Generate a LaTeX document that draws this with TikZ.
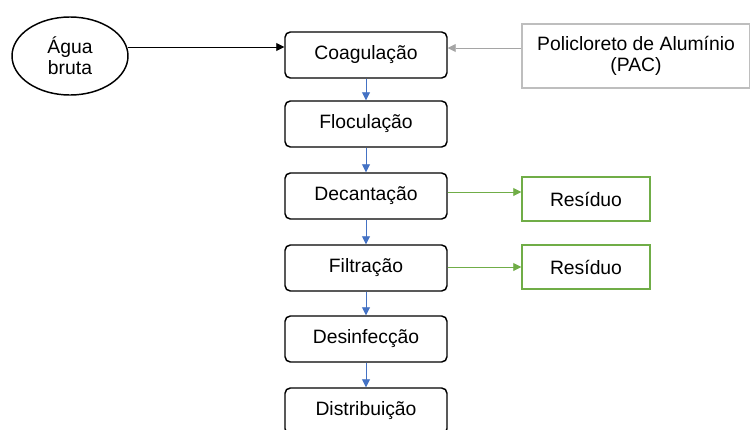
\documentclass[tikz,border=0pt]{standalone}
\usepackage{fontspec}
\setmainfont{Liberation Sans}
\usetikzlibrary{arrows.meta,shapes.geometric}
\definecolor{blueA}{RGB}{68,114,196}
\definecolor{greenA}{RGB}{112,173,71}
\definecolor{grayB}{RGB}{190,190,190}
\definecolor{grayA}{RGB}{165,165,165}
\begin{document}
\begin{tikzpicture}[x=0.75pt,y=-0.75pt,
  txt/.style={font=\fontsize{14.5}{16}\selectfont},
  stepbox/.style={txt,draw=black,line width=1.1pt,rounded corners=4pt,minimum width=121.5pt,minimum height=34.5pt,inner sep=0pt},
  resbox/.style={txt,draw=greenA,line width=1.1pt,minimum width=96pt,minimum height=33pt,inner sep=0pt},
  tip/.style={-{Triangle[length=6pt,width=6pt]}},
  bluearrow/.style={tip,draw=blueA,fill=blueA,line width=0.7pt},
  greenarrow/.style={tip,draw=greenA,line width=0.7pt},
  grayarrow/.style={tip,draw=grayA,line width=0.7pt},
  blackarrow/.style={tip,draw=black,line width=0.7pt}]
\useasboundingbox (0,0) rectangle (750,429);
\clip (0,0) rectangle (750,429);
\node[txt,draw=black,line width=1.1pt,ellipse,minimum width=87pt,minimum height=58.5pt,inner sep=0pt,align=center] (agua) at (70,56) {Água\\bruta};
\node[stepbox] (coag) at (366,55) {Coagulação};
\node[stepbox] (floc) at (366,124) {Floculação};
\node[stepbox] (dec) at (366,196) {Decantação};
\node[stepbox] (filt) at (366,268) {Filtração};
\node[stepbox] (des) at (366,339) {Desinfecção};
\node[stepbox] (dist) at (366,411) {Distribuição};
\node[txt,draw=grayB,line width=1.1pt,minimum width=171pt,minimum height=48pt,inner sep=0pt,align=center] (pac) at (636,56) {Policloreto de Alumínio\\(PAC)};
\node[resbox] (r1) at (586,199) {Resíduo};
\node[resbox] (r2) at (586,267) {Resíduo};
\draw[blackarrow] (128,47) -- (coag.west |- 0,47);
\draw[grayarrow] (pac.west |- 0,48) -- (coag.east |- 0,48);
\draw[bluearrow] (coag.south) -- (floc.north);
\draw[bluearrow] (floc.south) -- (dec.north);
\draw[bluearrow] (dec.south) -- (filt.north);
\draw[bluearrow] (filt.south) -- (des.north);
\draw[bluearrow] (des.south) -- (dist.north);
\draw[greenarrow] (dec.east |- 0,192) -- (r1.west |- 0,192);
\draw[greenarrow] (filt.east |- 0,267) -- (r2.west |- 0,267);
\end{tikzpicture}
\end{document}
